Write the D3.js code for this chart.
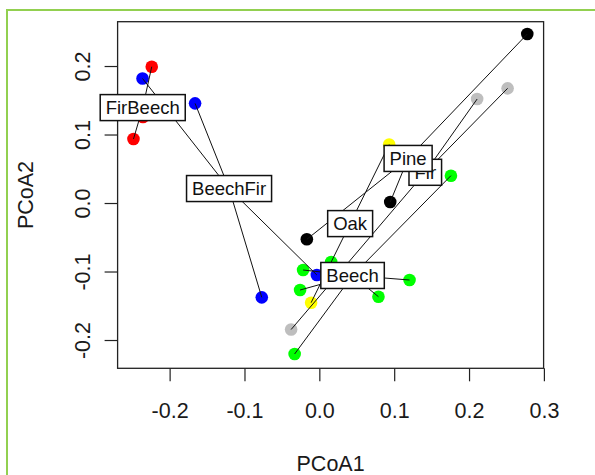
<!DOCTYPE html>
<html>
<head>
<meta charset="utf-8">
<script src="https://cdn.jsdelivr.net/npm/d3@7"></script>
<style>
  html, body { margin: 0; padding: 0; background: #ffffff; }
  svg { display: block; }
  text { font-family: "Liberation Sans", Arial, sans-serif; }
</style>
</head>
<body>
<svg id="chart" width="595" height="475"></svg>
<script>
// ---- Data ----
const groups = ["Beech", "BeechFir", "Fir", "FirBeech", "Oak", "Pine"];

// sample scores
const pcoa1 = [0.2778, -0.2239, -0.2362, -0.1660, -0.2356, -0.2483, 0.2108, 0.2515,
               0.0933, 0.1758, 0.0947, -0.0167, -0.0217, 0.0158, -0.0033, 0.1205,
               -0.0257, 0.0790, -0.0110, -0.0769, -0.0377, -0.0330];
const pcoa2 = [0.2467, 0.1990, 0.1818, 0.1455, 0.1255, 0.0934, 0.1518, 0.1674,
               0.0854, 0.0399, 0.0015, -0.0530, -0.0978, -0.0861, -0.1051, -0.1124,
               -0.1270, -0.1368, -0.1455, -0.1377, -0.1847, -0.2204];
const sampleGroup = ["Pine", "FirBeech", "BeechFir", "BeechFir", "FirBeech", "FirBeech", "Fir", "Fir",
                     "Oak", "Beech", "Pine", "Pine", "Beech", "Beech", "BeechFir", "Beech",
                     "Beech", "Beech", "Oak", "BeechFir", "Fir", "Beech"];
const sampleColor = ["black", "red", "blue", "blue", "red", "red", "gray", "gray",
                     "yellow", "green", "black", "black", "green", "green", "blue", "green",
                     "green", "green", "yellow", "blue", "gray", "green"];

const xTicks = [-0.2, -0.1, 0.0, 0.1, 0.2, 0.3];
const yTicks = [-0.2, -0.1, 0.0, 0.1, 0.2];
const xLabel = "PCoA1";
const yLabel = "PCoA2";

// ---- Styles ----
const colorMap = { black: "#000000", red: "#ff0000", blue: "#0000ff", gray: "#bebebe",
                   yellow: "#ffff00", green: "#00ff00" };

const svg = d3.select("#chart");

// outer green border
svg.append("rect")
  .attr("x", 7).attr("y", 10).attr("width", 620).attr("height", 500)
  .attr("fill", "none").attr("stroke", "#92d050").attr("stroke-width", 2);

const plot = { left: 117.6, right: 543.6, top: 21.7, bottom: 368.3 };

const x = d3.scaleLinear().domain([-0.2695, 0.2996]).range([plot.left, plot.right]);
const y = d3.scaleLinear().domain([-0.2413, 0.2647]).range([plot.bottom, plot.top]);

const fmt = d3.format(".1f");
const tickFmt = v => fmt(v).replace("\u2212", "-");

// axes
const xAxis = svg.append("g")
  .attr("transform", `translate(0,${plot.bottom})`)
  .call(d3.axisBottom(x).tickValues(xTicks).tickFormat(tickFmt).tickSize(13).tickSizeOuter(0));
xAxis.select(".domain").remove();
xAxis.selectAll(".tick line").attr("stroke", "#222").attr("stroke-width", 1.2);
xAxis.selectAll(".tick text")
  .attr("y", 49.4).attr("dy", 0)
  .attr("font-size", 21.5).attr("fill", "#1a1a1a")
  .style("font-family", '"Liberation Sans", Arial, sans-serif');

const yAxis = svg.append("g")
  .attr("transform", `translate(${plot.left},0)`)
  .call(d3.axisLeft(y).tickValues(yTicks).tickFormat(tickFmt).tickSize(13).tickSizeOuter(0));
yAxis.select(".domain").remove();
yAxis.selectAll(".tick line").attr("stroke", "#222").attr("stroke-width", 1.2);
yAxis.selectAll(".tick text")
  .attr("x", 0).attr("dy", 0)
  .attr("transform", "translate(-28,0) rotate(-90)")
  .attr("text-anchor", "middle")
  .attr("font-size", 21.5).attr("fill", "#1a1a1a")
  .style("font-family", '"Liberation Sans", Arial, sans-serif');

// frame
svg.append("rect")
  .attr("x", plot.left).attr("y", plot.top)
  .attr("width", plot.right - plot.left).attr("height", plot.bottom - plot.top)
  .attr("fill", "none").attr("stroke", "#222").attr("stroke-width", 1.3);

// axis titles
svg.append("text")
  .attr("x", (plot.left + plot.right) / 2).attr("y", 470.5)
  .attr("text-anchor", "middle").attr("font-size", 21.5).attr("fill", "#1a1a1a")
  .text(xLabel);
svg.append("text")
  .attr("transform", `translate(33,${(plot.top + plot.bottom) / 2}) rotate(-90)`)
  .attr("text-anchor", "middle").attr("font-size", 21.5).attr("fill", "#1a1a1a")
  .text(yLabel);

// samples
const samples = pcoa1.map((v, i) => ({ x: v, y: pcoa2[i], g: sampleGroup[i], c: sampleColor[i] }));

// group centroids
const cent = groups.map(g => {
  const m = samples.filter(s => s.g === g);
  return { g, x: d3.mean(m, s => s.x), y: d3.mean(m, s => s.y) };
});
const centBy = Object.fromEntries(cent.map(c => [c.g, c]));

// points
svg.append("g").selectAll("circle").data(samples).join("circle")
  .attr("cx", d => x(d.x)).attr("cy", d => y(d.y)).attr("r", 6.3)
  .attr("fill", d => colorMap[d.c]);

// spider lines
svg.append("g").selectAll("line").data(samples).join("line")
  .attr("x1", d => x(centBy[d.g].x)).attr("y1", d => y(centBy[d.g].y))
  .attr("x2", d => x(d.x)).attr("y2", d => y(d.y))
  .attr("stroke", "#111").attr("stroke-width", 1);

// labels with boxes (ordilabel style), drawn in order
const labOrder = ["FirBeech", "BeechFir", "Oak", "Beech", "Fir", "Pine"];
const labG = svg.append("g");
labOrder.forEach(g => {
  const c = centBy[g];
  const gg = labG.append("g").attr("transform", `translate(${x(c.x)},${y(c.y)})`);
  const rect = gg.append("rect");
  const t = gg.append("text")
    .attr("text-anchor", "middle").attr("dy", "0.36em")
    .attr("font-size", 18.5).attr("fill", "#111")
    .text(g);
  const w = t.node().getComputedTextLength();
  const bw = w + 11, bh = 26;
  rect.attr("x", -bw / 2).attr("y", -bh / 2).attr("width", bw).attr("height", bh)
    .attr("fill", "white").attr("stroke", "#111").attr("stroke-width", 1.5);
});
</script>
</body>
</html>
